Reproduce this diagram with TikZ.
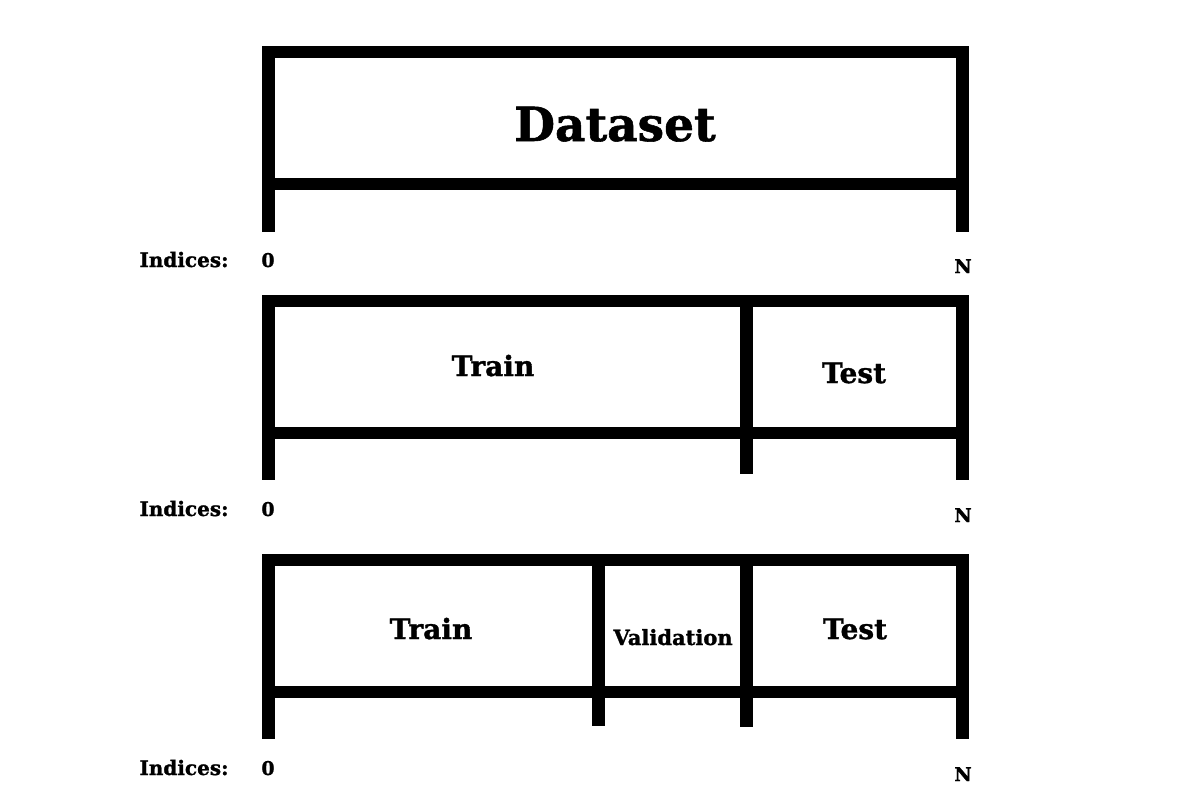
\documentclass[tikz,border=0pt]{standalone}
\usepackage{fontspec}
\setmainfont[BoldFeatures={FakeBold=1.2}]{DejaVu Serif}
\begin{document}
\begin{tikzpicture}[x=1pt,y=-1pt,
  bar/.style={fill=black},
  lbl/.style={inner sep=0pt,anchor=base,font=\bfseries},
  big/.style={lbl,font=\bfseries\fontsize{47}{50}\selectfont},
  mid/.style={lbl,font=\bfseries\fontsize{28}{32}\selectfont},
  small/.style={lbl,font=\bfseries\fontsize{21}{24}\selectfont},
  idx/.style={lbl,font=\bfseries\fontsize{20}{24}\selectfont},
  num/.style={lbl,font=\bfseries\fontsize{19}{22}\selectfont}]
\useasboundingbox (0,0) rectangle (1200,800);
\fill[white] (0,0) rectangle (1200,800);
% Panel 1
\begin{scope}
\fill[bar] (262,46) rectangle (969,58);
\fill[bar] (262,178) rectangle (969,190);
\fill[bar] (262,46) rectangle (275,232);
\fill[bar] (956,46) rectangle (969,232);
\node[big] (ds) at (615,141) {Dataset};
\node[idx] (i1) at (184,267) {Indices:};
\node[num] (z1) at (268,267) {0};
\node[num] (n1) at (963,273) {N};
\end{scope}
% Panel 2
\begin{scope}[yshift=-249pt]
\fill[bar] (262,46) rectangle (969,58);
\fill[bar] (262,178) rectangle (969,190);
\fill[bar] (262,46) rectangle (275,231);
\fill[bar] (956,46) rectangle (969,231);
\fill[bar] (740,46) rectangle (753,225);
\node[mid] (tr2) at (493,127) {Train};
\node[mid] (te2) at (854,134) {Test};
\node[idx] (i2) at (184,267) {Indices:};
\node[num] (z2) at (268,267) {0};
\node[num] (n2) at (963,273) {N};
\end{scope}
% Panel 3
\begin{scope}[yshift=-508pt]
\fill[bar] (262,46) rectangle (969,58);
\fill[bar] (262,178) rectangle (969,190);
\fill[bar] (262,46) rectangle (275,231);
\fill[bar] (956,46) rectangle (969,231);
\fill[bar] (592,46) rectangle (605,218);
\fill[bar] (740,46) rectangle (753,219);
\node[mid] (tr3) at (431,131) {Train};
\node[small] (va3) at (673,137) {Validation};
\node[mid] (te3) at (855,131) {Test};
\node[idx] (i3) at (184,267) {Indices:};
\node[num] (z3) at (268,267) {0};
\node[num] (n3) at (963,273) {N};
\end{scope}
\end{tikzpicture}
\end{document}
